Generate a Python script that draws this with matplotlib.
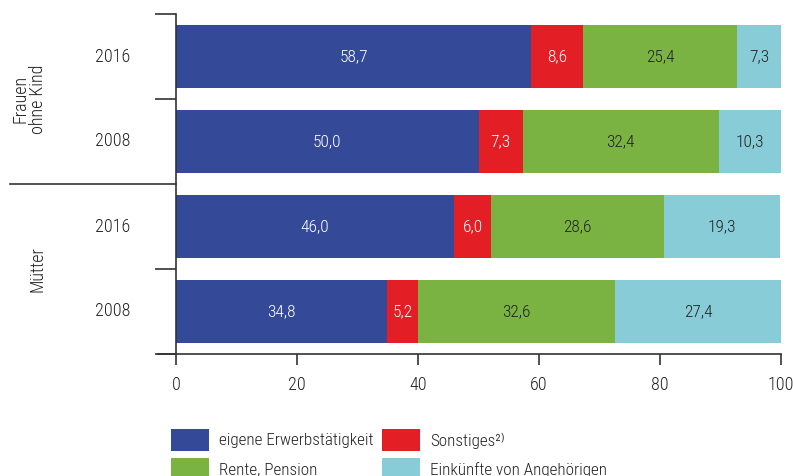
import matplotlib.pyplot as plt
from matplotlib.patches import Rectangle

plt.rcParams['font.family'] = ['Roboto Condensed', 'DejaVu Sans']
plt.rcParams['font.weight'] = 'light'

# Anteile in Prozent, von oben nach unten
groups = ['Frauen\nohne Kind', 'Mütter']
years = ['2016', '2008', '2016', '2008']
categories = ['eigene Erwerbstätigkeit', 'Sonstiges²⁾', 'Rente, Pension', 'Einkünfte von Angehörigen']
colors = ['#344a98', '#e31e24', '#7ab342', '#87ccd6']
text_colors = ['white', 'white', '#222222', '#222222']

erwerb = [58.7, 50.0, 46.0, 34.8]
sonstiges = [8.6, 7.3, 6.0, 5.2]
rente = [25.4, 32.4, 28.6, 32.6]
angehoerige = [7.3, 10.3, 19.3, 27.4]
series = [erwerb, sonstiges, rente, angehoerige]

fig = plt.figure(figsize=(7.93, 4.76), dpi=100)
ax = fig.add_axes([176 / 793, 1 - 354 / 476, 605 / 793, 340 / 476])

ypos = [3.5, 2.5, 1.5, 0.5]
left = [0.0] * 4
for vals, col, tc in zip(series, colors, text_colors):
    ax.barh(ypos, vals, left=left, height=0.75, color=col, linewidth=0)
    for y, l, v in zip(ypos, left, vals):
        ax.text(l + v / 2, y, f'{v:.1f}'.replace('.', ','), ha='center', va='center',
                color=tc, fontsize=12.5)
    left = [a + b for a, b in zip(left, vals)]

ax.set_xlim(0, 100)
ax.set_ylim(0, 4)
for s in ['top', 'right', 'bottom']:
    ax.spines[s].set_visible(False)
ax.spines['left'].set_color('#333333')
ax.spines['left'].set_linewidth(1.2)

ax.set_xticks([0, 20, 40, 60, 80, 100])
ax.tick_params(axis='x', length=8, width=1.2, color='#333333', labelsize=13, pad=8,
               labelcolor='#222222')
ax.set_yticks([0, 1, 3, 4])
ax.set_yticklabels([])
ax.tick_params(axis='y', length=15, width=1.2, color='#333333')

# x-Achse etwas nach links verlängert, Trennlinie zwischen den Gruppen
ax.plot([-18 / 605 * 100, 100], [0, 0], color='#333333', lw=1.2, clip_on=False)
ax.plot([-166 / 605 * 100, 0], [2, 2], color='#333333', lw=1.2, clip_on=False)

for y, yr in zip(ypos, years):
    ax.text(-63 / 605 * 100, y, yr, ha='center', va='center', fontsize=13, color='#222222')

ax.text(-147 / 605 * 100, 3, groups[0], rotation=90, ha='center', va='center',
        fontsize=13, color='#222222', linespacing=1.0)
ax.text(-138 / 605 * 100, 1, groups[1], rotation=90, ha='center', va='center',
        fontsize=13, color='#222222')

# Legende
W, H = 793, 476
legend_pos = [(171, 429), (382, 429), (171, 458), (382, 458)]
for (x0, y0), lab, col in zip(legend_pos, categories, colors):
    fig.patches.append(Rectangle((x0 / W, 1 - (y0 + 22) / H), 38 / W, 22 / H,
                                 transform=fig.transFigure, color=col, lw=0))
    fig.text((x0 + 48) / W, 1 - (y0 + 12) / H, lab, ha='left', va='center',
             fontsize=12.3, color='#222222')

fig.savefig('out.png', dpi=100)
